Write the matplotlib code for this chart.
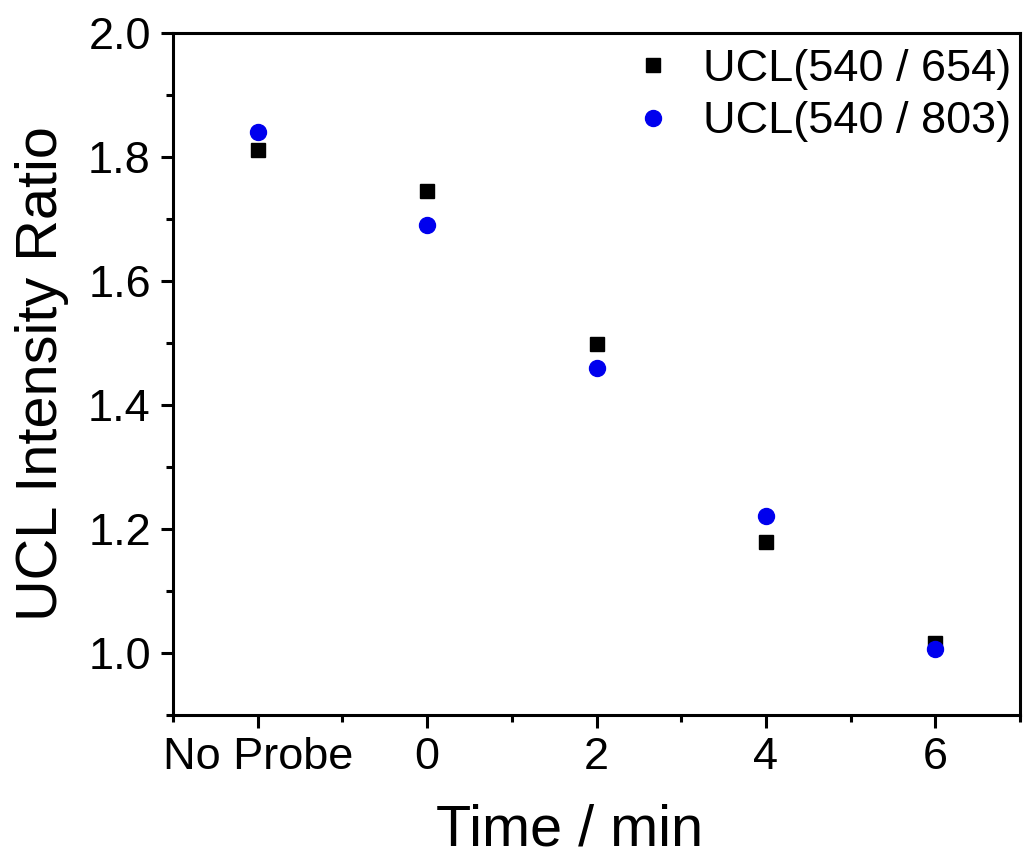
import matplotlib
matplotlib.use("Agg")
import matplotlib.pyplot as plt
from matplotlib.ticker import MultipleLocator

plt.rcParams['font.family'] = ['Liberation Sans', 'DejaVu Sans']

x_pos = [-2, 0, 2, 4, 6]
tick_labels = ["No Probe", "0", "2", "4", "6"]
ratio_654 = [1.812, 1.745, 1.499, 1.179, 1.016]
ratio_803 = [1.840, 1.690, 1.460, 1.221, 1.006]

fig = plt.figure(figsize=(10.24, 8.57), dpi=100)
ax = fig.add_axes([173/1024, 1 - 715/857, (1020-173)/1024, (715-33)/857])

ax.plot(x_pos, ratio_654, linestyle='none', marker='s', color='black', markersize=10,
        label='UCL(540 / 654)')
ax.plot(x_pos, ratio_803, linestyle='none', marker='o', color='#0000ee', markersize=11.5,
        label='UCL(540 / 803)')

ax.set_xlim(-3, 7)
ax.set_ylim(0.9, 2.0)
ax.set_xticks(x_pos)
ax.set_xticklabels(tick_labels)
ax.xaxis.set_minor_locator(MultipleLocator(1))
ax.yaxis.set_major_locator(MultipleLocator(0.2))
ax.yaxis.set_minor_locator(MultipleLocator(0.1))
ax.tick_params(axis='both', which='major', direction='out', length=9, width=2.2,
               labelsize=32.5, pad=7, top=False, right=False)
ax.tick_params(axis='both', which='minor', direction='out', length=5, width=2.2,
               top=False, right=False)
for s in ax.spines.values():
    s.set_linewidth(2.2)

ax.set_xlabel('Time / min', fontsize=41.5)
ax.xaxis.set_label_coords((570 - 173) / 847, -(845 - 715) / 682, transform=ax.transAxes)
ax.xaxis.label.set_va('baseline')
ax.set_ylabel('UCL Intensity Ratio', fontsize=41.5, labelpad=14)

ax.legend(loc='upper right', bbox_to_anchor=(1.0, 1 - 7/682), frameon=False,
          fontsize=32.5, handletextpad=0.5, borderaxespad=0, borderpad=0.2,
          labelspacing=0.25, handlelength=1.2)

fig.savefig('out.png', dpi=100)
